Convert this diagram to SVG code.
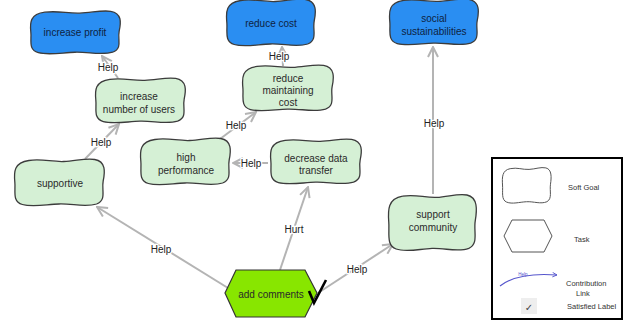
<svg xmlns="http://www.w3.org/2000/svg" xmlns:xlink="http://www.w3.org/1999/xlink" width="625" height="322" viewBox="0 0 625 322">
  <style>
    .goal { stroke: #3c3c3c; stroke-width: 1.3; }
    .hard { fill: #2a8ef2; }
    .soft { fill: #d5f0d5; }
    .ntext { font-family: "Liberation Sans", Arial, sans-serif; font-size: 10px; text-anchor: middle; fill: #2a2a2a; }
    .btext { font-family: "Liberation Sans", Arial, sans-serif; font-size: 10px; text-anchor: middle; fill: #0e2342; }
    .link { fill: none; stroke: #b4b4b4; stroke-width: 2; marker-end: url(#open); }
    .elabel { font-family: "Liberation Sans", Arial, sans-serif; font-size: 10px; text-anchor: middle; fill: #222; stroke: #fff; stroke-width: 2.5; paint-order: stroke; }
    .legtext { font-family: "Liberation Sans", Arial, sans-serif; font-size: 7.5px; fill: #333; }
  </style>
  <defs>
    <!-- soft-goal cloud outline in a 100x100 unit box -->
    <path id="cloud" vector-effect="non-scaling-stroke" d="M18,7 C32,3 42,10 55,9 C68,8 78,2 88,5 C100,9 99,30 97,48 C95,66 101,86 90,94 C78,101 64,93 50,94 C36,95 22,101 11,95 C0,89 4,68 3,50 C2,30 2,11 18,7 Z"/>
    <marker id="open" viewBox="0 0 12 12" refX="11" refY="6" markerWidth="12" markerHeight="12" markerUnits="userSpaceOnUse" orient="auto">
      <path d="M1,1 L11,6 L1,11" fill="none" stroke="#b4b4b4" stroke-width="2"/>
    </marker>
    <marker id="legarrow" viewBox="0 0 8 8" refX="7" refY="4" markerWidth="6" markerHeight="6" markerUnits="userSpaceOnUse" orient="auto">
      <path d="M1,1 L7,4 L1,7" fill="none" stroke="#5555cc" stroke-width="1.2"/>
    </marker>
  </defs>
  <rect width="625" height="322" fill="#fff"/>

  <!-- connectors -->
  <g id="links">
    <line class="link" x1="118" y1="78" x2="102" y2="56"/>
    <line class="link" x1="283" y1="66" x2="282" y2="47"/>
    <line class="link" x1="85" y1="159" x2="119" y2="124"/>
    <line class="link" x1="220" y1="139" x2="256" y2="112"/>
    <line class="link" x1="268" y1="163" x2="233" y2="163"/>
    <line class="link" x1="433" y1="194" x2="433" y2="47"/>
    <line class="link" x1="228" y1="288" x2="97" y2="207"/>
    <line class="link" x1="280" y1="270" x2="308" y2="187"/>
    <line class="link" x1="318" y1="293" x2="393" y2="244"/>
    <text class="elabel" x="108" y="71">Help</text>
    <text class="elabel" x="279" y="60">Help</text>
    <text class="elabel" x="101" y="146">Help</text>
    <text class="elabel" x="236" y="129">Help</text>
    <text class="elabel" x="251" y="167">Help</text>
    <text class="elabel" x="434" y="127">Help</text>
    <text class="elabel" x="161" y="253">Help</text>
    <text class="elabel" x="294" y="233">Hurt</text>
    <text class="elabel" x="357" y="273">Help</text>
  </g>

  <!-- goals -->
  <g id="increase-profit">
    <use xlink:href="#cloud" class="goal hard" transform="translate(28,9) scale(0.94,0.46)"/>
    <text class="btext" x="75" y="36">increase profit</text>
  </g>
  <g id="reduce-cost">
    <use xlink:href="#cloud" class="goal hard" transform="translate(224,-3) scale(0.93,0.5)"/>
    <text class="btext" x="271" y="27">reduce cost</text>
  </g>
  <g id="social-sustainabilities">
    <use xlink:href="#cloud" class="goal hard" transform="translate(387,-3) scale(0.93,0.49)"/>
    <text class="btext" x="434" y="22">social</text>
    <text class="btext" x="434" y="35">sustainabilities</text>
  </g>
  <g id="increase-number-of-users">
    <use xlink:href="#cloud" class="goal soft" transform="translate(93,76) scale(0.94,0.48)"/>
    <text class="ntext" x="139" y="100">increase</text>
    <text class="ntext" x="139" y="113">number of users</text>
  </g>
  <g id="reduce-maintaining-cost">
    <use xlink:href="#cloud" class="goal soft" transform="translate(240,63) scale(0.95,0.49)"/>
    <text class="ntext" x="288" y="82">reduce</text>
    <text class="ntext" x="288" y="94">maintaining</text>
    <text class="ntext" x="288" y="106">cost</text>
  </g>
  <g id="high-performance">
    <use xlink:href="#cloud" class="goal soft" transform="translate(138,136) scale(0.94,0.5)"/>
    <text class="ntext" x="186" y="161">high</text>
    <text class="ntext" x="186" y="174">performance</text>
  </g>
  <g id="supportive">
    <use xlink:href="#cloud" class="goal soft" transform="translate(12,157) scale(0.94,0.5)"/>
    <text class="ntext" x="60" y="187">supportive</text>
  </g>
  <g id="decrease-data-transfer">
    <use xlink:href="#cloud" class="goal soft" transform="translate(268,137) scale(0.95,0.48)"/>
    <text class="ntext" x="316" y="162">decrease data</text>
    <text class="ntext" x="316" y="174">transfer</text>
  </g>
  <g id="support-community">
    <use xlink:href="#cloud" class="goal soft" transform="translate(386,192) scale(0.92,0.6)"/>
    <text class="ntext" x="433" y="218">support</text>
    <text class="ntext" x="433" y="231">community</text>
  </g>

  <!-- task -->
  <g id="add-comments">
    <polygon points="225,293 236,270 305,270 317,293 305,317 236,317" fill="#88e600" stroke="#333" stroke-width="1.2"/>
    <text class="ntext" x="271" y="298">add comments</text>
    <path d="M309,291 L314,303 L326,280" fill="none" stroke="#000" stroke-width="2.6"/>
  </g>

  <!-- legend -->
  <g id="legend">
    <rect x="492" y="158" width="130" height="161" fill="#fff" stroke="#000" stroke-width="2"/>
    <use xlink:href="#cloud" fill="none" stroke="#555" stroke-width="1" transform="translate(501,166) scale(0.51,0.38)"/>
    <text class="legtext" x="568" y="190">Soft Goal</text>
    <polygon points="504,236 512,220 544,220 552,236 544,252 512,252" fill="none" stroke="#555" stroke-width="1"/>
    <text class="legtext" x="574" y="242">Task</text>
    <path d="M500,286 Q518,272 557,275" fill="none" stroke="#5555cc" stroke-width="1.1" marker-end="url(#legarrow)"/>
    <text x="523" y="276" font-family="Liberation Sans, Arial, sans-serif" font-size="4.5" fill="#5555cc" text-anchor="middle">Help</text>
    <text class="legtext" x="566" y="286">Contribution</text>
    <text class="legtext" x="576" y="296">Link</text>
    <rect x="521" y="298" width="16" height="16" fill="#eeeeee"/>
    <text x="529" y="311" font-family="DejaVu Sans, sans-serif" font-size="10" fill="#444" text-anchor="middle">✓</text>
    <text class="legtext" x="567" y="309">Satisfied Label</text>
  </g>
</svg>
